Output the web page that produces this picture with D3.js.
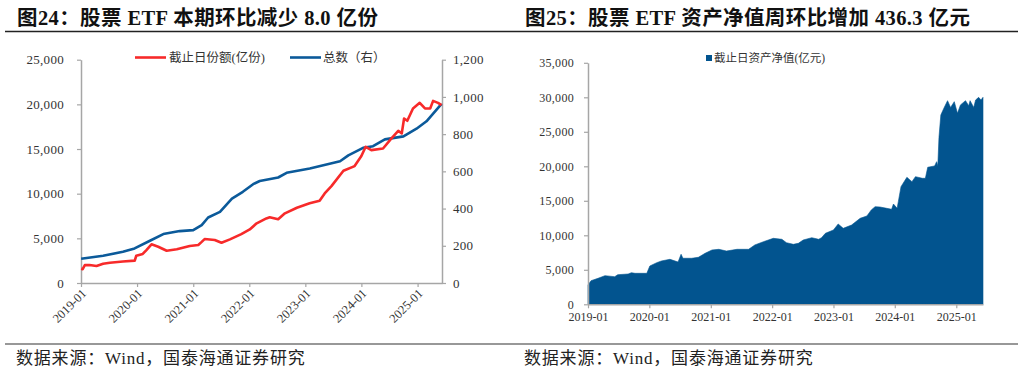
<!DOCTYPE html>
<html><head><meta charset="utf-8">
<script src="https://cdn.jsdelivr.net/npm/d3@7"></script>
<style>
body{margin:0;background:#fff;}
svg{display:block;}
</style></head>
<body><svg id="c" width="1024" height="374"></svg>
<script>
// ---- data ----
const shareDates = ["2019-01-02","2019-01-12","2019-01-26","2019-02-25","2019-04-12","2019-05-25","2019-07-08","2019-10-01","2019-12-17","2019-12-27","2020-02-07","2020-03-02","2020-04-04","2020-05-18","2020-07-12","2020-09-16","2020-12-09","2021-02-03","2021-02-25","2021-03-16","2021-05-21","2021-07-04","2021-08-28","2021-11-10","2022-01-04","2022-02-18","2022-04-22","2022-05-14","2022-07-08","2022-08-21","2022-11-07","2023-01-29","2023-04-04","2023-05-07","2023-06-20","2023-09-06","2023-11-18","2024-01-01","2024-01-29","2024-03-06","2024-05-21","2024-07-15","2024-08-28","2024-09-20","2024-10-05","2024-10-26","2024-12-02","2025-01-15","2025-02-18","2025-03-24","2025-04-12","2025-05-14","2025-06-06"];
const shareValues = [1600,1550,2000,2020,1900,2150,2270,2400,2500,3050,3250,3690,4330,4060,3610,3770,4140,4250,4600,4920,4810,4510,4880,5480,6000,6680,7230,7350,7130,7800,8430,8920,9210,10030,10850,12560,13090,14210,15250,14880,15060,16190,17040,16750,18420,18160,19540,20170,19540,19540,20390,20170,19910];

const countDates = ["2019-01-02","2019-05-25","2019-10-01","2019-12-16","2020-03-25","2020-06-20","2020-10-05","2021-01-01","2021-02-25","2021-04-08","2021-06-24","2021-09-10","2021-11-20","2022-01-26","2022-03-10","2022-07-08","2022-09-01","2023-01-30","2023-08-15","2023-10-08","2024-01-12","2024-03-17","2024-06-02","2024-10-01","2024-12-25","2025-02-28","2025-06-06"];
const countValues = [130,146,168,186,227,263,279,284,311,352,382,454,490,531,548,567,592,615,654,686,726,735,772,788,829,869,963];

const navDates = ["2019-01-01","2019-01-19","2019-03-02","2019-04-12","2019-06-09","2019-06-27","2019-08-28","2019-09-16","2019-10-08","2019-12-17","2020-01-04","2020-02-14","2020-03-13","2020-05-03","2020-06-20","2020-07-08","2020-07-19","2020-09-09","2020-10-19","2020-11-28","2021-01-08","2021-02-18","2021-04-04","2021-06-06","2021-08-14","2021-09-20","2021-11-10","2022-01-08","2022-02-28","2022-03-27","2022-05-07","2022-06-06","2022-07-05","2022-08-25","2022-10-05","2022-10-22","2022-11-14","2023-01-01","2023-01-29","2023-02-28","2023-04-19","2023-06-09","2023-07-19","2023-08-14","2023-09-06","2023-10-05","2023-11-14","2023-12-13","2023-12-24","2024-01-15","2024-01-22","2024-02-07","2024-03-13","2024-04-12","2024-05-03","2024-06-13","2024-07-01","2024-07-15","2024-08-25","2024-09-06","2024-09-13","2024-09-20","2024-10-01","2024-10-19","2024-11-10","2024-11-28","2024-12-20","2025-01-08","2025-01-26","2025-02-25","2025-03-16","2025-03-24","2025-04-15","2025-04-26","2025-05-14","2025-05-28","2025-06-09"];
const navValues = [2800,3420,3770,4150,4000,4290,4390,4580,4490,4490,5550,6030,6280,6520,6130,7250,6670,6670,6810,7390,7870,7970,7720,7970,7970,8600,9070,9560,9420,8930,8690,8840,9320,9650,9420,9650,10290,10770,11640,11010,11490,12460,12800,13670,14150,14100,13910,13770,14530,13910,14880,17050,18400,17770,18500,18260,18260,19860,20050,20670,20050,24200,27440,28410,29510,28530,29370,27680,28900,29510,28770,29510,28530,29610,29990,29610,29990];

const yearTicks = ["2019-01","2020-01","2021-01","2022-01","2023-01","2024-01","2025-01"];
const leftTicks = [0,5000,10000,15000,20000,25000];
const rightTicks = [0,200,400,600,800,1000,1200];
const navTicks = [0,5000,10000,15000,20000,25000,30000,35000];

const title1 = "图24：股票 ETF 本期环比减少 8.0 亿份";
const title2 = "图25：股票 ETF 资产净值周环比增加 436.3 亿元";
const source = "数据来源：Wind，国泰海通证券研究";
const legend1 = ["截止日份额(亿份)","总数（右）"];
const legend2 = "截止日资产净值(亿元)";

// ---- drawing ----
const svg = d3.select("#c");
const parse = d3.timeParse("%Y-%m-%d");
const parseM = d3.timeParse("%Y-%m");
const fmt = d3.format(",");
const serif = "'Liberation Serif','Noto Sans CJK SC',serif";
const cjk = "'Liberation Serif','Noto Sans CJK SC',sans-serif";
const axisColor = "#a6a6a6";
const red = "#f72a2a", blue = "#0b5a9a", navBlue = "#02548f";
const domainX = [parse("2019-01-01"), parse("2025-06-09")];

// titles & rules
svg.append("text").attr("x",17).attr("y",25).attr("font-family",cjk).attr("font-weight","bold")
  .attr("font-size",20.5).attr("letter-spacing",0.4).attr("fill","#111").text(title1);
svg.append("text").attr("x",525).attr("y",25).attr("font-family",cjk).attr("font-weight","bold")
  .attr("font-size",20.5).attr("letter-spacing",0.4).attr("fill","#111").text(title2);
svg.append("line").attr("x1",5).attr("x2",1018).attr("y1",31.5).attr("y2",31.5).attr("stroke","#222").attr("stroke-width",1.5);
svg.append("line").attr("x1",5).attr("x2",1018).attr("y1",344).attr("y2",344).attr("stroke","#333").attr("stroke-width",1.2);
svg.append("text").attr("x",16).attr("y",364).attr("font-family",cjk).attr("font-size",17).attr("letter-spacing",0.8).attr("fill","#222").text(source);
svg.append("text").attr("x",524).attr("y",364).attr("font-family",cjk).attr("font-size",17).attr("letter-spacing",0.8).attr("fill","#222").text(source);

function styleAxis(g){
  g.selectAll(".domain").attr("stroke",axisColor).attr("stroke-width",1.5);
  g.selectAll(".tick line").attr("stroke",axisColor).attr("stroke-width",1.2);
  g.selectAll("text").attr("fill","#333").attr("font-family",serif);
}

// ---- left chart ----
{
  const x = d3.scaleTime().domain(domainX).range([81,442]);
  const yL = d3.scaleLinear().domain([0,25000]).range([283,59.7]);
  const yR = d3.scaleLinear().domain([0,1200]).range([283,59.7]);

  const gx = svg.append("g").attr("transform","translate(0,283)")
    .call(d3.axisBottom(x).tickValues(yearTicks.map(parseM)).tickSize(4).tickSizeOuter(0).tickFormat(""));
  styleAxis(gx);
  yearTicks.forEach(t=>{
    svg.append("text").attr("transform",`translate(${x(parseM(t))+3},${291}) rotate(-45)`)
      .attr("text-anchor","end").attr("dy","0.35em").attr("font-family",serif).attr("font-size",12.5)
      .attr("fill","#333").text(t);
  });
  const gl = svg.append("g").attr("transform","translate(81,0)")
    .call(d3.axisLeft(yL).tickValues(leftTicks).tickSize(4).tickSizeOuter(0).tickPadding(13).tickFormat(fmt));
  styleAxis(gl); gl.selectAll("text").attr("font-size",13).attr("letter-spacing",0.3);
  const gr = svg.append("g").attr("transform","translate(442,0)")
    .call(d3.axisRight(yR).tickValues(rightTicks).tickSize(4).tickSizeOuter(0).tickPadding(7).tickFormat(fmt));
  styleAxis(gr); gr.selectAll("text").attr("font-size",13).attr("letter-spacing",0.3);

  const share = shareDates.map((d,i)=>({d:parse(d),v:shareValues[i]}));
  const count = countDates.map((d,i)=>({d:parse(d),v:countValues[i]}));
  svg.append("path").datum(count).attr("fill","none").attr("stroke",blue).attr("stroke-width",2.6)
    .attr("stroke-linejoin","round").attr("d",d3.line().x(p=>x(p.d)).y(p=>yR(p.v)));
  svg.append("path").datum(share).attr("fill","none").attr("stroke",red).attr("stroke-width",2.6)
    .attr("stroke-linejoin","round").attr("d",d3.line().x(p=>x(p.d)).y(p=>yL(p.v)));

  // legend
  svg.append("line").attr("x1",135).attr("x2",166).attr("y1",57.5).attr("y2",57.5).attr("stroke",red).attr("stroke-width",2.6);
  svg.append("text").attr("x",169).attr("y",62).attr("font-family",cjk).attr("font-size",12.5).attr("fill","#333").text(legend1[0]);
  svg.append("line").attr("x1",290).attr("x2",321).attr("y1",57.5).attr("y2",57.5).attr("stroke",blue).attr("stroke-width",2.6);
  svg.append("text").attr("x",323).attr("y",62).attr("font-family",cjk).attr("font-size",12.5).attr("fill","#333").text(legend1[1]);
}

// ---- right chart ----
{
  const x = d3.scaleTime().domain(domainX).range([588,983]);
  const y = d3.scaleLinear().domain([0,35000]).range([304.3,62.8]);
  const nav = navDates.map((d,i)=>({d:parse(d),v:navValues[i]}));
  svg.append("path").datum(nav).attr("fill",navBlue).attr("stroke",navBlue).attr("stroke-width",0.6)
    .attr("d",d3.area().x(p=>x(p.d)).y0(y(0)).y1(p=>y(p.v)));

  const gx = svg.append("g").attr("transform","translate(0,304.3)")
    .call(d3.axisBottom(x).tickValues(yearTicks.map(parseM)).tickSize(4).tickSizeOuter(0).tickPadding(4)
      .tickFormat(d3.timeFormat("%Y-%m")));
  styleAxis(gx); gx.selectAll("text").attr("font-size",12);
  const gy = svg.append("g").attr("transform","translate(588,0)")
    .call(d3.axisLeft(y).tickValues(navTicks).tickSize(4).tickSizeOuter(0).tickPadding(10).tickFormat(fmt));
  styleAxis(gy); gy.selectAll("text").attr("font-size",12).attr("letter-spacing",0.3);

  svg.append("rect").attr("x",706).attr("y",55).attr("width",6).attr("height",6).attr("fill",navBlue);
  svg.append("text").attr("x",714).attr("y",62).attr("font-family",cjk).attr("font-size",11.5).attr("fill","#333").text(legend2);
}
</script></body></html>
